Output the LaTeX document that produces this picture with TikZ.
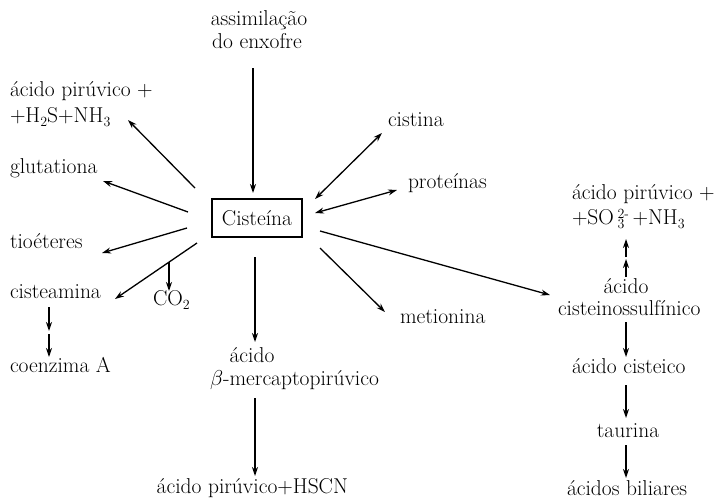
\RequirePackage{fix-cm}
\documentclass[tikz,border=0pt]{standalone}
\usetikzlibrary{arrows.meta}
\newcommand{\smallidx}[1]{{\fontsize{14}{14}\selectfont #1}}
\begin{document}
\begin{tikzpicture}[x=1pt,y=-1pt,
  lbl/.style={inner sep=0pt,outer sep=0pt,font=\fontsize{21.5}{24}\selectfont},
  arr/.style={line width=1.3pt,-{Stealth[length=9pt,width=6pt]}},
  darr/.style={line width=1.3pt,{Stealth[length=9pt,width=6pt]}-{Stealth[length=9pt,width=6pt]}},
  boxn/.style={draw,line width=1.1pt,minimum width=90pt,minimum height=38pt,inner sep=0pt,font=\fontsize{21.5}{24}\selectfont}]
\useasboundingbox (0,0) rectangle (715,501);
% texts
\node[lbl,anchor=base] (as1) at (259,25) {assimilação};
\node[lbl,anchor=base] (as2) at (257,48) {do enxofre};
\node[boxn] (cis) at (257,218) {Cisteína};
\node[lbl,anchor=base west] (pir1) at (10,96) {ácido pirúvico +};
\node[lbl,anchor=base west] (pir2) at (10,122) {+H\raisebox{-4pt}{\smallidx{2}}S+NH\raisebox{-4pt}{\smallidx{3}}};
\node[lbl,anchor=base west] (glu) at (10,173) {glutationa};
\node[lbl,anchor=base west] (tio) at (10,248) {tioéteres};
\node[lbl,anchor=base west] (cam) at (10,298) {cisteamina};
\node[lbl,anchor=base west] (co2) at (153,305) {CO\raisebox{-4pt}{\smallidx{2}}};
\node[lbl,anchor=base west] (coa) at (10,372) {coenzima A};
\node[lbl,anchor=base west] (cst) at (388,126) {cistina};
\node[lbl,anchor=base west] (pro) at (408,188) {proteínas};
\node[lbl,anchor=base west] (met) at (400,323) {metionina};
\node[lbl,anchor=base west] (rp1) at (572,199) {ácido pirúvico +};
\node[lbl,anchor=base west] (rp2) at (572,224) {+SO\,\rlap{\raisebox{-4pt}{\smallidx{3}}}\raisebox{6pt}{\smallidx{2-}}\,+NH\raisebox{-4pt}{\smallidx{3}}};
\node[lbl,anchor=base] (sul1) at (626,293) {ácido};
\node[lbl,anchor=base west] (sul2) at (558,315) {cisteinossulfínico};
\node[lbl,anchor=base west] (ceo) at (572,373) {ácido cisteico};
\node[lbl,anchor=base] (tau) at (628,437) {taurina};
\node[lbl,anchor=base west] (bil) at (567,495) {ácidos biliares};
\node[lbl,anchor=base] (mer1) at (252,362) {ácido};
\node[lbl,anchor=base west] (mer2) at (210,385) {$\beta$-mercaptopirúvico};
\node[lbl,anchor=base east] (hscn) at (348,493) {ácido pirúvico+HSCN};
% connector end points
\coordinate (a1) at (253,68);  \coordinate (a2) at (253,193);
\coordinate (l1a) at (195,188); \coordinate (l1b) at (128,120);
\coordinate (l2a) at (188,212); \coordinate (l2b) at (103,181);
\coordinate (l3a) at (187,228); \coordinate (l3b) at (102,253);
\coordinate (l4a) at (197,243); \coordinate (l4b) at (115,299);
\coordinate (c2a) at (169,262); \coordinate (c2b) at (169,291);
\coordinate (k1) at (49,307); \coordinate (k2) at (49,331);
\coordinate (k3) at (49,334); \coordinate (k4) at (49,357);
\coordinate (r1a) at (315,199); \coordinate (r1b) at (382,133);
\coordinate (r2a) at (315,213); \coordinate (r2b) at (397,190);
\coordinate (r3a) at (320,231); \coordinate (r3b) at (550,295);
\coordinate (r4a) at (320,248); \coordinate (r4b) at (385,312);
\coordinate (u1) at (626,277); \coordinate (u2) at (626,259);
\coordinate (u3) at (626,257); \coordinate (u4) at (626,239);
\coordinate (d1) at (626,322); \coordinate (d2) at (626,357);
\coordinate (d3) at (626,385); \coordinate (d4) at (626,418);
\coordinate (d5) at (626,445); \coordinate (d6) at (626,478);
\coordinate (b1) at (255,257); \coordinate (b2) at (255,342);
\coordinate (b3) at (255,398); \coordinate (b4) at (255,476);
% connectors
\draw[arr] (a1) -- (a2);
\draw[arr] (l1a) -- (l1b);
\draw[arr] (l2a) -- (l2b);
\draw[arr] (l3a) -- (l3b);
\draw[arr] (l4a) -- (l4b);
\draw[arr] (c2a) -- (c2b);
\draw[arr] (k1) -- (k2);
\draw[arr] (k3) -- (k4);
\draw[darr] (r1a) -- (r1b);
\draw[darr] (r2a) -- (r2b);
\draw[arr] (r3a) -- (r3b);
\draw[arr] (r4a) -- (r4b);
\draw[arr] (u1) -- (u2);
\draw[arr] (u3) -- (u4);
\draw[arr] (d1) -- (d2);
\draw[arr] (d3) -- (d4);
\draw[arr] (d5) -- (d6);
\draw[arr] (b1) -- (b2);
\draw[arr] (b3) -- (b4);
\end{tikzpicture}
\end{document}
